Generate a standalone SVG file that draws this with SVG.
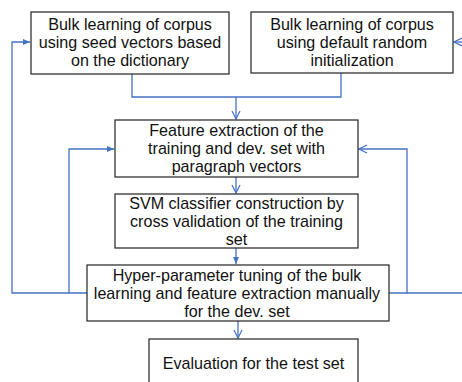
<svg xmlns="http://www.w3.org/2000/svg" width="462" height="382" viewBox="0 0 462 382">
<style>
.box{fill:#fff;stroke:#222;stroke-width:1.2}
.t{font-family:"Liberation Sans",Arial,sans-serif;font-size:16.1px;fill:#111;text-anchor:middle}
.c{fill:none;stroke:#4472C4;stroke-width:1.3}
</style>
<defs>
<marker id="open" markerWidth="10" markerHeight="10" refX="9" refY="5" orient="auto" markerUnits="userSpaceOnUse">
<path d="M1,1 L9,5 L1,9" fill="none" stroke="#4472C4" stroke-width="1.2"/>
</marker>
<marker id="fill" markerWidth="8" markerHeight="8" refX="7" refY="4" orient="auto" markerUnits="userSpaceOnUse">
<path d="M0,1 L7,4 L0,7 Z" fill="#4472C4"/>
</marker>
</defs>
<g id="connectors">
<path class="c" d="M132,74 V97 H341 V73"/>
<path class="c" d="M236,97 V119" marker-end="url(#open)"/>
<path class="c" d="M236,177 V193" marker-end="url(#open)"/>
<path class="c" d="M236,248 V264" marker-end="url(#fill)"/>
<path class="c" d="M238,321 V338" marker-end="url(#open)"/>
<path class="c" d="M87,293 H12 V42 H30" marker-end="url(#fill)"/>
<path class="c" d="M69,293 V149 H114" marker-end="url(#fill)"/>
<path class="c" d="M389,293 H407 V149 H359" marker-end="url(#open)"/>
<path class="c" d="M407,293 H462"/>
<path class="c" d="M462,42 H454" marker-end="url(#open)"/>
</g>
<g id="n1">
<rect class="box" x="31" y="12" width="198" height="62"/>
<text class="t" x="130" y="30">Bulk learning of corpus</text>
<text class="t" x="130" y="48">using seed vectors based</text>
<text class="t" x="130" y="66">on the dictionary</text>
</g>
<g id="n2">
<rect class="box" x="251" y="12" width="202" height="61"/>
<text class="t" x="352" y="30">Bulk learning of corpus</text>
<text class="t" x="352" y="48">using default random</text>
<text class="t" x="352" y="66">initialization</text>
</g>
<g id="n3">
<rect class="box" x="115" y="120" width="243" height="57"/>
<text class="t" x="236.5" y="136">Feature extraction of the</text>
<text class="t" x="236.5" y="154">training and dev. set with</text>
<text class="t" x="236.5" y="172">paragraph vectors</text>
</g>
<g id="n4">
<rect class="box" x="115" y="194" width="243" height="54"/>
<text class="t" x="236.5" y="209">SVM classifier construction by</text>
<text class="t" x="236.5" y="227">cross validation of the training</text>
<text class="t" x="236.5" y="245">set</text>
</g>
<g id="n5">
<rect class="box" x="87" y="265" width="302" height="56"/>
<text class="t" x="237" y="281">Hyper-parameter tuning of the bulk</text>
<text class="t" x="237" y="299">learning and feature extraction manually</text>
<text class="t" x="237" y="317">for the dev. set</text>
</g>
<g id="n6">
<rect class="box" x="149" y="339" width="209" height="60"/>
<text class="t" x="253.5" y="369">Evaluation for the test set</text>
</g>
</svg>
